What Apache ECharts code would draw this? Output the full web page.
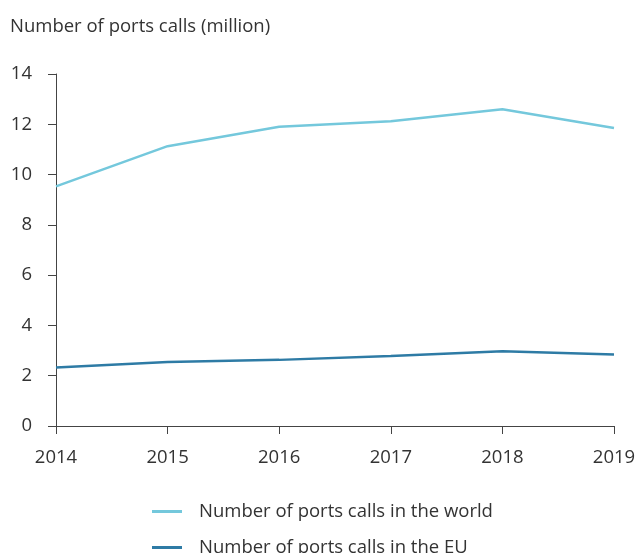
<!DOCTYPE html>
<html><head><meta charset="utf-8">
<script src="https://cdn.jsdelivr.net/npm/echarts@6/dist/echarts.min.js"></script>
<style>html,body{margin:0;padding:0;background:#fff}#c{width:635px;height:553px}</style>
</head><body><div id="c"></div>
<script>
const years = ['2014','2015','2016','2017','2018','2019'];
const worldCalls = [9.53, 11.13, 11.9, 12.12, 12.6, 11.85];
const euCalls = [2.33, 2.55, 2.63, 2.78, 2.97, 2.84];
const seriesNames = ['Number of ports calls in the world', 'Number of ports calls in the EU'];
const yTitle = 'Number of ports calls (million)';

const font = 'Open Sans';
const fs = 18.5;
const txt = '#333333';
const legendBase = {orient:'horizontal',left:147,itemWidth:30,itemHeight:3,icon:'rect',
  textStyle:{fontFamily:font,fontSize:fs,color:txt,padding:[0,0,0,12]}};
const chart = echarts.init(document.getElementById('c'), null, {renderer:'canvas'});
chart.setOption({
  animation:false,
  backgroundColor:'#ffffff',
  title:{text:yTitle,left:5,top:12,textStyle:{fontFamily:font,fontSize:fs,fontWeight:'normal',color:txt}},
  grid:{left:56,right:21,top:74,bottom:127,containLabel:false,outerBoundsMode:'none'},
  legend:[
    Object.assign({}, legendBase, {top:497, data:[seriesNames[0]]}),
    Object.assign({}, legendBase, {top:533, data:[seriesNames[1]]})
  ],
  xAxis:{type:'category',data:years,boundaryGap:false,
    axisLine:{lineStyle:{color:'#444',width:1}},
    axisTick:{show:true,length:8,alignWithLabel:true,lineStyle:{color:'#444'}},
    axisLabel:{margin:22,fontFamily:font,fontSize:fs,color:txt,showMinLabel:true,showMaxLabel:true},
    splitLine:{show:false}},
  yAxis:{type:'value',min:0,max:14,interval:2,
    axisLine:{show:true,lineStyle:{color:'#444',width:1}},
    axisTick:{show:true,length:8,lineStyle:{color:'#444'}},
    axisLabel:{margin:24,fontFamily:font,fontSize:fs,color:txt},
    splitLine:{show:false}},
  series:[
    {name:seriesNames[0],type:'line',data:worldCalls,symbol:'none',lineStyle:{color:'#74c8dc',width:2.5},itemStyle:{color:'#74c8dc'}},
    {name:seriesNames[1],type:'line',data:euCalls,symbol:'none',lineStyle:{color:'#2e7ba5',width:2.5},itemStyle:{color:'#2e7ba5'}}
  ]
});
</script></body></html>
